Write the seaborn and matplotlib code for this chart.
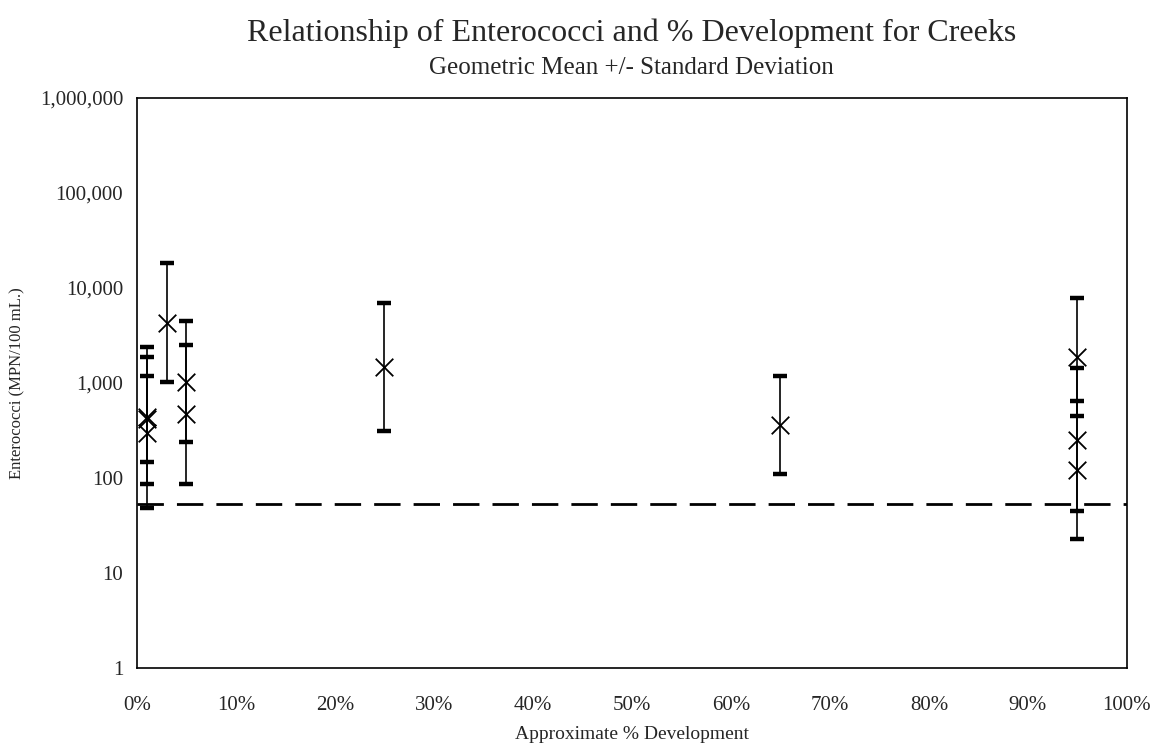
import numpy as np
import pandas as pd
import matplotlib
matplotlib.use("Agg")
import matplotlib.pyplot as plt
import seaborn as sns
from matplotlib.ticker import FuncFormatter, FixedLocator, NullLocator

# Data: % development, geometric mean, upper and lower bar ends
development = [1, 1, 1, 3, 5, 5, 25, 65, 95, 95, 95]
geo_mean = [440, 420, 300, 4300, 1030, 470, 1480, 360, 1880, 250, 121]
upper = [1900, 1200, 2400, 18500, 4500, 2500, 6900, 1180, 7800, 1440, 650]
lower = [86, 147, 48, 1020, 240, 86, 312, 110, 450, 45, 23]
standard_level = 53

df = pd.DataFrame({"dev": development, "mean": geo_mean, "up": upper, "low": lower})

sns.set_style("white")
plt.rcParams["font.family"] = ["Liberation Serif", "DejaVu Serif"]

fig = plt.figure(figsize=(11.57, 7.5), dpi=100)
ax = fig.add_axes([0.1184, 0.1093, 0.8556, 0.76])

# error bars (geometric mean +/- SD)
yerr = np.array([df["mean"] - df["low"], df["up"] - df["mean"]])
ax.errorbar(df["dev"], df["mean"], yerr=yerr, fmt="none", ecolor="black",
            elinewidth=1.2, capsize=5, capthick=3.2, zorder=2)

sns.scatterplot(data=df, x="dev", y="mean", marker="x", s=160, color="black",
                linewidth=1.3, ax=ax, zorder=3)

ax.axhline(standard_level, color="black", linewidth=2, dashes=(9.5, 4.7), zorder=1)

ax.set_yscale("log")
ax.set_ylim(1, 1_000_000)
ax.set_xlim(0, 100)
ax.yaxis.set_major_locator(FixedLocator([1, 10, 100, 1000, 10000, 100000, 1000000]))
ax.yaxis.set_minor_locator(NullLocator())
ax.yaxis.set_major_formatter(FuncFormatter(lambda v, p: f"{v:,.0f}"))
ax.set_xticks(range(0, 101, 10))
ax.xaxis.set_major_formatter(FuncFormatter(lambda v, p: f"{v:.0f}%"))

ax.tick_params(axis="both", direction="out", length=4, width=0.8, color="black",
               labelsize=15, pad=6)
ax.tick_params(axis="x", length=0, pad=20)
for s in ax.spines.values():
    s.set_color("black")
    s.set_linewidth(1.2)

ax.set_xlabel("Approximate % Development", fontsize=14, labelpad=8)
ax.set_ylabel("Enterococci (MPN/100 mL.)", fontsize=12, labelpad=10)

fig.text(0.546, 0.955, "Relationship of Enterococci and % Development for Creeks",
         ha="center", va="center", fontsize=23)
fig.text(0.546, 0.91, "Geometric Mean +/- Standard Deviation",
         ha="center", va="center", fontsize=18)

fig.savefig("out.png", dpi=100)
